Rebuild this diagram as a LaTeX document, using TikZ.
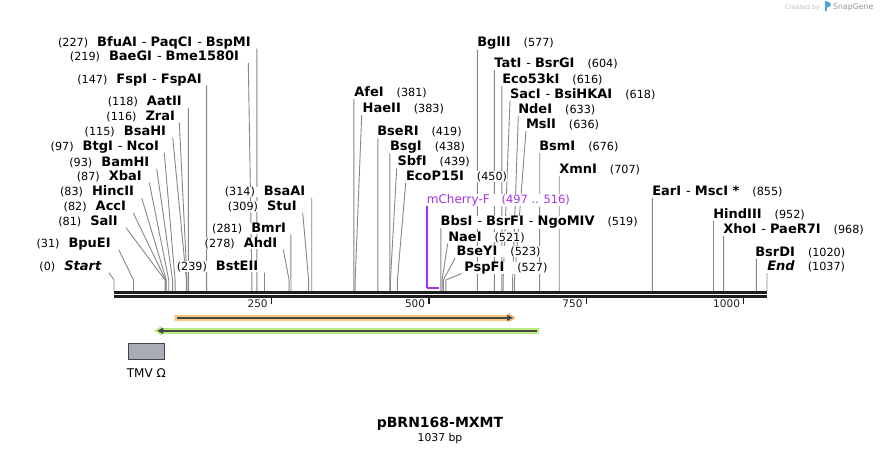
\documentclass[tikz,border=0pt]{standalone}
\usepackage{fontspec}
\setmainfont{DejaVu Sans}
\usetikzlibrary{arrows.meta}

\definecolor{cutgray}{RGB}{135,135,135}
\definecolor{seqblack}{RGB}{30,30,30}
\definecolor{featorange}{RGB}{252,202,125}
\definecolor{featorangeedge}{RGB}{240,180,95}
\definecolor{featgreen}{RGB}{190,240,130}
\definecolor{featgreenedge}{RGB}{165,225,105}
\definecolor{featdark}{RGB}{70,70,70}
\definecolor{boxgray}{RGB}{168,173,181}
\definecolor{mchpurple}{RGB}{166,48,232}
\definecolor{sgblue}{RGB}{74,163,223}
\definecolor{sggray}{RGB}{140,150,160}

\pgfdeclarelayer{paper}
\pgfdeclarelayer{lines}
\pgfsetlayers{paper,lines,main}

\newcommand{\bpnum}[1]{{\fontsize{11.2}{12}\selectfont\mdseries(#1)}}
\newcommand{\sepd}{\hspace{5pt}{\mdseries-}\hspace{4pt}}
\newcommand{\gapl}{\hspace{9pt}}
\newcommand{\gapr}{\hspace{13pt}}

\begin{document}
\begin{tikzpicture}[x=1pt, y=-1pt,
    cut/.style={draw=cutgray, line width=0.9pt},
    enz/.style={inner sep=0pt, outer sep=0pt, fill=white, font=\fontsize{13}{15}\selectfont\bfseries},
    ticklbl/.style={inner sep=0pt, font=\fontsize{10.5}{12}\selectfont}]
    \begin{pgfonlayer}{paper}
    \fill[white] (0,0) rectangle (882,454);
    \end{pgfonlayer}
    \useasboundingbox (0,0) rectangle (882,454);

    % sites labelled on the left
    \foreach \p/\lx/\ly/\sx/\txt in {
        227/250.7/46.7/256.9/{\bpnum{227}\gapl BfuAI\sepd PaqCI\sepd BspMI},
        219/239/61/248.3/{\bpnum{219}\gapl BaeGI\sepd Bme1580I},
        147/201.7/83.3/206.6/{\bpnum{147}\gapl FspI\sepd FspAI},
        118/181.7/106/188.3/{\bpnum{118}\gapl AatII},
        116/175/120.7/179.3/{\bpnum{116}\gapl ZraI},
        115/166/135.7/172.7/{\bpnum{115}\gapl BsaHI},
        97/159/150.7/164.3/{\bpnum{97}\gapl BtgI\sepd NcoI},
        93/149.3/166.7/156.7/{\bpnum{93}\gapl BamHI},
        87/141.7/180.7/149.3/{\bpnum{87}\gapl XbaI},
        83/134/196/141.7/{\bpnum{83}\gapl HincII},
        82/126/211/133.3/{\bpnum{82}\gapl AccI},
        81/117.7/225.7/126/{\bpnum{81}\gapl SalI},
        31/110.7/247.7/118.7/{\bpnum{31}\gapl BpuEI},
        0/101.7/270.7/109/{\bpnum{0}\gapl\textit{Start}},
        239/258.3/270.7/264.5/{\bpnum{239}\gapl BstEII},
        278/277.3/247.7/283.3/{\bpnum{278}\gapl AhdI},
        281/286/232.7/290.9/{\bpnum{281}\gapl BmrI},
        309/296.7/210.7/302.7/{\bpnum{309}\gapl StuI},
        314/305.3/196/311.7/{\bpnum{314}\gapl BsaAI}}
    {
        \node[enz, anchor=base east] (l\p) at (\lx,\ly) {\txt};
        \coordinate (a\p) at (\sx,\ly+2);
        \coordinate (b\p) at ({114+\p*0.6297},280);
        \coordinate (c\p) at ({114+\p*0.6297},291);
        \begin{pgfonlayer}{lines}
        \draw[cut] (a\p) -- (b\p) -- (c\p);
        \end{pgfonlayer}
    }

    % sites labelled on the right
    \foreach \p/\lx/\ly/\sx/\txt in {
        381/354.3/96.7/353.9/{AfeI\gapr\bpnum{381}},
        383/362.7/112.7/361.7/{HaeII\gapr\bpnum{383}},
        419/377.3/136/377.8/{BseRI\gapr\bpnum{419}},
        438/390/150.7/389.8/{BsgI\gapr\bpnum{438}},
        439/397.5/166/396.7/{SbfI\gapr\bpnum{439}},
        450/406/180.7/405.7/{EcoP15I\gapr\bpnum{450}},
        519/440.7/225.7/440.8/{BbsI\sepd BsrFI\sepd NgoMIV\gapr\bpnum{519}},
        521/448.3/241/447.7/{NaeI\gapr\bpnum{521}},
        523/456.7/255.7/455/{BseYI\gapr\bpnum{523}},
        527/464.3/271/461.7/{PspFI\gapr\bpnum{527}},
        577/477.3/46.7/477.3/{BglII\gapr\bpnum{577}},
        604/494.3/67.7/494.3/{TatI\sepd BsrGI\gapr\bpnum{604}},
        616/502.3/83.3/501.9/{Eco53kI\gapr\bpnum{616}},
        618/510/98.3/510/{SacI\sepd BsiHKAI\gapr\bpnum{618}},
        633/518.3/113.3/518.3/{NdeI\gapr\bpnum{633}},
        636/526/128.3/526/{MslI\gapr\bpnum{636}},
        676/539.3/150.7/539.7/{BsmI\gapr\bpnum{676}},
        707/559.3/173.3/559.2/{XmnI\gapr\bpnum{707}},
        855/652.3/195.7/652.4/{EarI\sepd MscI *\gapr\bpnum{855}},
        952/713.3/218.3/713.5/{HindIII\gapr\bpnum{952}},
        968/723.3/233.3/723.6/{XhoI\sepd PaeR7I\gapr\bpnum{968}},
        1020/755.3/256/756.3/{BsrDI\gapr\bpnum{1020}},
        1037/767.3/270.7/767/{\textit{End}\gapr\bpnum{1037}}}
    {
        \node[enz, anchor=base west] (l\p) at (\lx,\ly) {\txt};
        \coordinate (a\p) at (\sx,\ly+2.5);
        \coordinate (b\p) at ({114+\p*0.6297},280);
        \coordinate (c\p) at ({114+\p*0.6297},291);
        \begin{pgfonlayer}{lines}
        \draw[cut] (a\p) -- (b\p) -- (c\p);
        \end{pgfonlayer}
    }

    % primer
    \node[anchor=base west, inner sep=0pt, fill=white, text=mchpurple, font=\fontsize{12}{14}\selectfont]
        (mch) at (426.7,203.3) {mCherry-F\hspace{12pt}{\fontsize{11.4}{13}\selectfont(497 .. 516)}};
    \coordinate (mchtop) at (427,206);
    \coordinate (mch497) at (427,287.7);
    \coordinate (mch516) at (439,287.7);
    \draw[mchpurple, line width=1.2pt] (mchtop) -- (mch497);
    \draw[mchpurple, line width=2pt] (mch497) -- (mch516);

    % sequence
    \coordinate (seqL) at (114,292.3);
    \coordinate (seqR) at (767,292.3);
    \draw[seqblack, line width=2.7pt] (seqL) -- (seqR);
    \draw[seqblack, line width=2.7pt] ([yshift=-4pt]seqL) -- ([yshift=-4pt]seqR);

    \foreach \t in {250, 500, 750, 1000}
    \draw[seqblack, line width=1.5pt] ({114+\t*0.6297},297.5) -- ({114+\t*0.6297},304.3)
        node[ticklbl, anchor=base east, xshift=-3pt, yshift=-3.4pt] (tk\t) {\t};

    % features
    \filldraw[fill=featorange, draw=featorangeedge, line width=0.6pt] (175,315.3) -- (509,315.3) -- (509,313.7) -- (515,317.8)
        -- (509,321.9) -- (509,320.3) -- (175,320.3) -- cycle;
    \coordinate (orgA) at (176.7,317.8);
    \coordinate (orgB) at (513,317.8);
    \draw[featdark, line width=1.8pt, -{Triangle[length=6pt,width=6pt]}] (orgA) -- (orgB);

    \filldraw[fill=featgreen, draw=featgreenedge, line width=0.6pt] (538.7,328.3) -- (161,328.3) -- (161,326.8) -- (155,330.8)
        -- (161,334.8) -- (161,333.3) -- (538.7,333.3) -- cycle;
    \coordinate (grnA) at (536.7,330.8);
    \coordinate (grnB) at (157.3,330.8);
    \draw[featdark, line width=1.8pt, -{Triangle[length=6pt,width=6pt]}] (grnA) -- (grnB);

    \node[draw=featdark, fill=boxgray, line width=0.8pt, inner sep=0pt,
        minimum width=36pt, minimum height=16pt] (tmv) at (146.3,351.3) {};
    \node[anchor=base, inner sep=0pt, font=\fontsize{12}{14}\selectfont]
        (tmvlbl) at ([yshift=-17.4pt]tmv.south) {TMV Ω};

    % title
    \node[anchor=base, inner sep=0pt, font=\fontsize{14}{16}\selectfont\bfseries]
        (title) at (440,427.3) {pBRN168-MXMT};
    \node[anchor=base, inner sep=0pt, font=\fontsize{10.8}{12}\selectfont]
        (size) at (440,441.7) {1037 bp};

    % snapgene mark
    \node[anchor=base east, inner sep=0pt, text=black!25, font=\fontsize{6.3}{7}\selectfont]
        (made) at (820,9.5) {Created by};
    \fill[sgblue] (825,1.5) rectangle (827.2,11);
    \fill[sgblue] (827.2,1.5) -- (830.5,3) -- (830.5,6) -- (827.2,7.5) -- cycle;
    \node[anchor=base west, inner sep=0pt, text=sggray, font=\fontsize{7.8}{9}\selectfont]
        (sg) at (833,10) {SnapGene};
\end{tikzpicture}
\end{document}
